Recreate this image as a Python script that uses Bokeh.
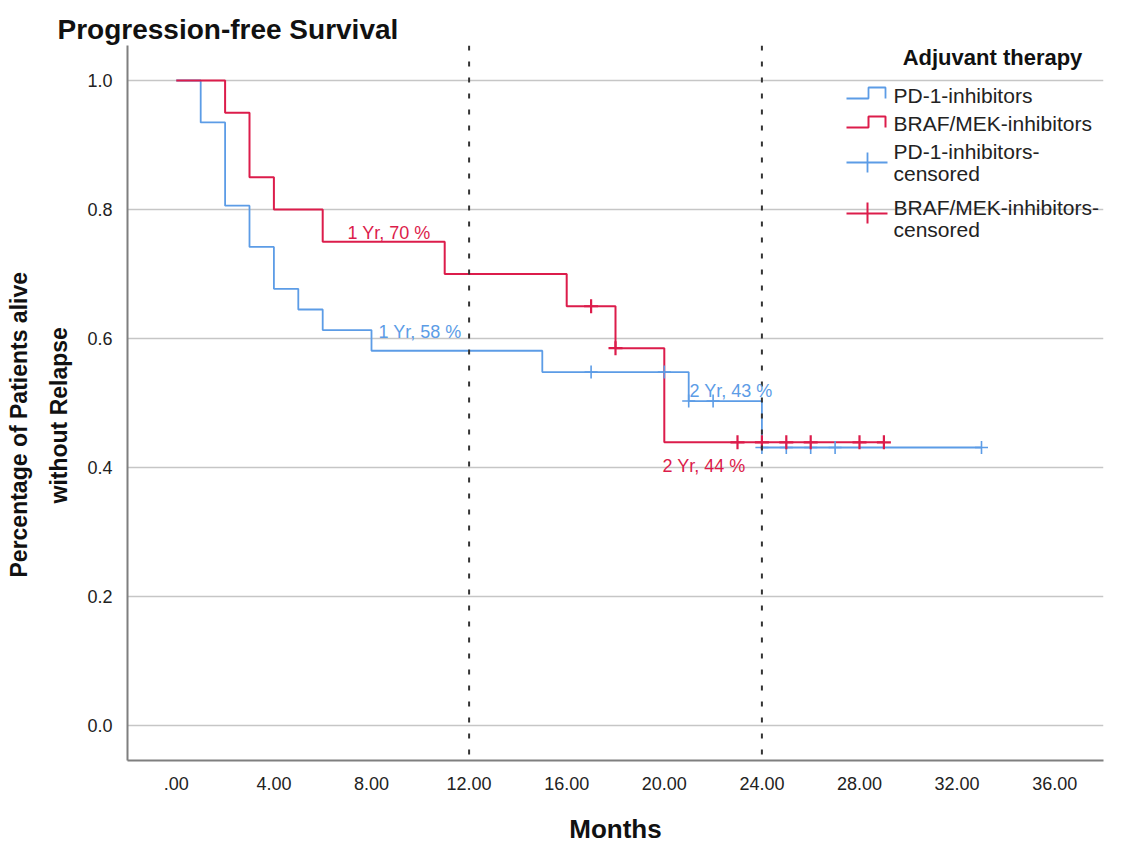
import numpy as np
from bokeh.plotting import figure
from bokeh.models import Range1d, FixedTicker, Span, Label, Title
from bokeh.embed import file_html
from bokeh.resources import INLINE

# ---- data ----
pd1_time = [0, 1, 2, 3, 4, 5, 6, 8, 15, 21, 24, 33]
pd1_surv = [1.0, 0.935, 0.806, 0.742, 0.677, 0.645, 0.613, 0.581, 0.548, 0.503, 0.431, 0.431]
pd1_cens_time = [17, 20, 21, 22, 24, 25, 26, 27, 33]
pd1_cens_surv = [0.548, 0.548, 0.503, 0.503, 0.431, 0.431, 0.431, 0.431, 0.431]

braf_time = [0, 2, 3, 4, 6, 11, 16, 18, 20, 29]
braf_surv = [1.0, 0.95, 0.85, 0.80, 0.75, 0.70, 0.65, 0.585, 0.439, 0.439]
braf_cens_time = [17, 18, 23, 24, 25, 26, 28, 29]
braf_cens_surv = [0.65, 0.585, 0.439, 0.439, 0.439, 0.439, 0.439, 0.439]

landmarks = [12, 24]
annot_pd1 = ["1 Yr, 58 %", "2 Yr, 43 %"]
annot_braf = ["1 Yr, 70 %", "2 Yr, 44 %"]

x_ticks = [0, 4, 8, 12, 16, 20, 24, 28, 32, 36]
x_tick_labels = [".00", "4.00", "8.00", "12.00", "16.00", "20.00", "24.00", "28.00", "32.00", "36.00"]
y_ticks = [0.0, 0.2, 0.4, 0.6, 0.8, 1.0]
y_tick_labels = ["0.0", "0.2", "0.4", "0.6", "0.8", "1.0"]

title_text = "Progression-free Survival"
x_title = "Months"
y_title_lines = ["Percentage of Patients alive", "without Relapse"]
legend_title = "Adjuvant therapy"
legend_labels = ["PD-1-inhibitors", "BRAF/MEK-inhibitors",
                 "PD-1-inhibitors-", "censored", "BRAF/MEK-inhibitors-", "censored"]

# ---- layout ----
W, H = 1121, 846
L, R, T, B = 127, 18, 45, 86
XMIN, XMAX = -2.0, 38.0
YMIN, YMAX = -0.0543, 1.0543
FW, FH = W - L - R, H - T - B

def px2x(px):
    return XMIN + (px - L) / FW * (XMAX - XMIN)

def px2y(py):
    return YMAX - (py - T) / FH * (YMAX - YMIN)

BLUE = "#5C9CE6"
RED = "#DC1C4B"
FONT = "Liberation Sans"

p = figure(width=W, height=H, x_range=Range1d(XMIN, XMAX), y_range=Range1d(YMIN, YMAX),
           min_border_left=L, min_border_right=R, min_border_top=T, min_border_bottom=B,
           output_backend="svg", toolbar_location=None)
p.outline_line_color = None
p.background_fill_color = "white"
p.border_fill_color = "white"

p.title.text = title_text
p.title.align = "left"
p.title.offset = -70
p.title.standoff = 1
p.title.text_font = FONT
p.title.text_font_size = "28px"
p.title.text_font_style = "bold"
p.title.text_color = "#111111"

p.xgrid.grid_line_color = None
p.ygrid.grid_line_color = "#C6C6C6"
p.ygrid.grid_line_width = 1.5
p.ygrid.ticker = FixedTicker(ticks=y_ticks)

p.xaxis.ticker = FixedTicker(ticks=x_ticks)
p.xaxis.major_label_overrides = {t: s for t, s in zip(x_ticks, x_tick_labels)}
p.yaxis.ticker = FixedTicker(ticks=y_ticks)
p.yaxis.major_label_overrides = {t: s for t, s in zip(y_ticks, y_tick_labels)}
for ax in (p.xaxis, p.yaxis):
    ax.major_tick_line_color = None
    ax.minor_tick_line_color = None
    ax.axis_line_color = "#7F7F7F"
    ax.axis_line_width = 2
    ax.major_label_text_font = FONT
    ax.major_label_text_font_size = "18px"
    ax.major_label_text_color = "#222222"
    ax.axis_label_text_font = FONT
    ax.axis_label_text_font_style = "bold"
    ax.axis_label_text_color = "#111111"
p.xaxis.major_label_standoff = 10
p.yaxis.major_label_standoff = 9
p.xaxis.axis_label = x_title
p.xaxis.axis_label_text_font_size = "26px"
p.xaxis.axis_label_standoff = 21

# y-axis title: two rotated single-line Titles in the left panel (inner line first)
p.add_layout(Title(text=y_title_lines[1], align="left", offset=257, standoff=25,
                   text_font=FONT, text_font_size="23px", text_font_style="bold",
                   text_color="#111111"), "left")
p.add_layout(Title(text=y_title_lines[0], align="left", offset=183, standoff=0,
                   text_font=FONT, text_font_size="23px", text_font_style="bold",
                   text_color="#111111"), "left")

# landmark lines
for lm in landmarks:
    p.add_layout(Span(location=lm, dimension="height", line_color="#333333",
                      line_width=2, line_dash="5 11"))

# KM curves
p.step(pd1_time, pd1_surv, mode="after", line_color=BLUE, line_width=1.8)
p.step(braf_time, braf_surv, mode="after", line_color=RED, line_width=2)
p.scatter(pd1_cens_time, pd1_cens_surv, marker="cross", size=13, line_color=BLUE, line_width=1.6)
p.scatter(braf_cens_time, braf_cens_surv, marker="cross", size=14, line_color=RED, line_width=2.2)

# annotations
def add_label(px, py, text, color, size, bold=False, align="left", baseline="alphabetic"):
    p.add_layout(Label(x=px2x(px), y=px2y(py), text=text, text_color=color,
                       text_font=FONT, text_font_size=size,
                       text_font_style="bold" if bold else "normal",
                       text_align=align, text_baseline=baseline))

add_label(347, 232, annot_braf[0], RED, "18px")
add_label(378, 331, annot_pd1[0], BLUE, "18px")
add_label(689, 390, annot_pd1[1], BLUE, "18px")
add_label(662, 465, annot_braf[1], RED, "18px")

# legend
add_label(992, 57, legend_title, "#111111", "22px", bold=True, align="center", baseline="middle")
p.line([px2x(v) for v in (846, 868, 868, 885, 885)], [px2y(v) for v in (98, 98, 87, 87, 98)],
       line_color=BLUE, line_width=1.8)
p.line([px2x(v) for v in (846, 868, 868, 885, 885)], [px2y(v) for v in (127, 127, 116, 116, 127)],
       line_color=RED, line_width=2)
p.line([px2x(846), px2x(887)], [px2y(162), px2y(162)], line_color=BLUE, line_width=1.8)
p.line([px2x(867), px2x(867)], [px2y(152), px2y(172)], line_color=BLUE, line_width=1.8)
p.line([px2x(846), px2x(887)], [px2y(213), px2y(213)], line_color=RED, line_width=2)
p.line([px2x(867), px2x(867)], [px2y(202), px2y(223)], line_color=RED, line_width=2)
for lab, yy in zip(legend_labels, (95, 123, 151, 173, 207, 229)):
    add_label(893, yy, lab, "#222222", "21px", baseline="middle")

open("out.html", "w").write(file_html(p, INLINE))
